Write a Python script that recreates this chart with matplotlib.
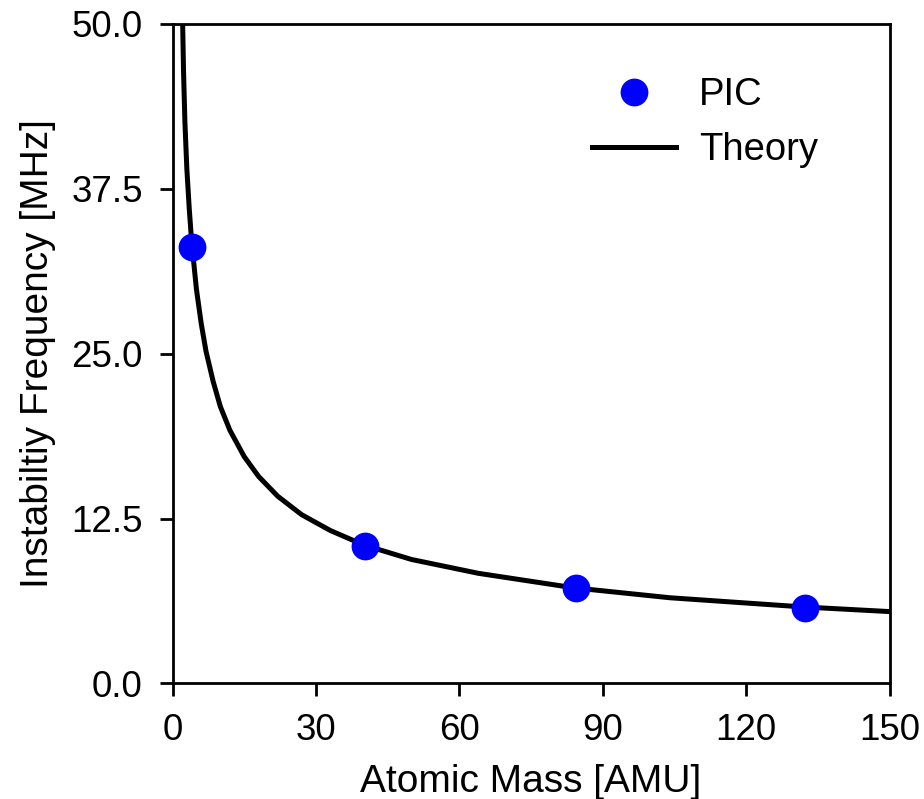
import matplotlib
matplotlib.use('Agg')
import matplotlib.pyplot as plt

plt.rcParams['font.family'] = ['Liberation Sans', 'DejaVu Sans']

# PIC simulation results (He, Ar, Kr, Xe)
pic_mass = [4.0, 40.3, 84.5, 132.3]
pic_freq = [33.1, 10.4, 7.2, 5.75]

# theory curve
theory_mass = [2.05, 2.1, 2.3, 2.6, 3.0, 3.5, 4.0, 5.0, 6.0, 7.0, 8.5, 10, 12, 15, 18,
               22, 27, 33, 40, 50, 64, 84, 104, 132, 150]
theory_freq = [51.5, 50.5, 46.5, 42.5, 39.0, 36.0, 33.5, 29.9, 27.3, 25.2, 22.9, 21.0,
               19.2, 17.2, 15.7, 14.2, 12.8, 11.6, 10.5, 9.4, 8.35, 7.25, 6.5, 5.8, 5.45]

x_ticks = [0, 30, 60, 90, 120, 150]
y_ticks = [0, 12.5, 25, 37.5, 50]

fig = plt.figure(figsize=(9.24, 7.99), dpi=100)
ax = fig.add_axes([0.1867, 0.1446, 0.776, 0.8254])

ax.plot(pic_mass, pic_freq, 'o', color='blue', markersize=19, label='PIC', zorder=3)
ax.plot(theory_mass, theory_freq, '-', color='black', linewidth=3.6, label='Theory', zorder=2)

ax.set_xlim(0, 150)
ax.set_ylim(0, 50)
ax.set_xticks(x_ticks)
ax.set_yticks(y_ticks)
ax.set_yticklabels(['%.1f' % v for v in y_ticks])

ax.set_xlabel('Atomic Mass [AMU]', fontsize=28, labelpad=11)
ax.set_ylabel('Instabiltiy Frequency [MHz]', fontsize=28, labelpad=11)
ax.tick_params(labelsize=26.5, length=9.5, width=2, pad=12)
for sp in ax.spines.values():
    sp.set_linewidth(2)

ax.legend(loc='upper left', bbox_to_anchor=(0.585, 0.919), frameon=False, fontsize=27.5,
          borderpad=0, borderaxespad=0, handlelength=2.2, handletextpad=0.6,
          labelspacing=0.5)

plt.savefig('out.png', dpi=100)
